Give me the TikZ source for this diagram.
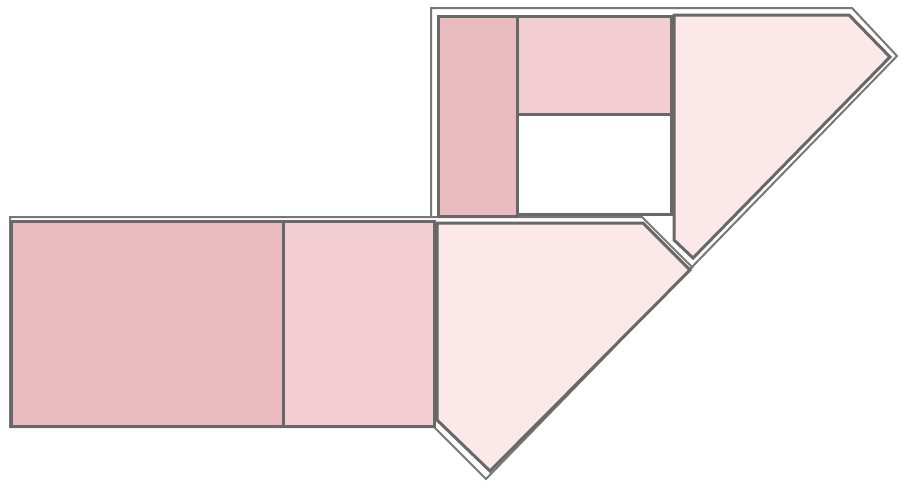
\documentclass[tikz,border=0pt]{standalone}
\usepackage{tikz}
\definecolor{roomdark}{HTML}{E9BBBE}
\definecolor{roommid}{HTML}{F2CDD1}
\definecolor{roomlight}{HTML}{FBE8E9}
\definecolor{wallgray}{HTML}{686868}
\definecolor{outlinegray}{HTML}{777777}
\tikzset{
  room/.style={draw=wallgray, line width=3pt, line join=miter},
  outline/.style={draw=outlinegray, line width=2pt, line join=miter},
}
\begin{document}
\begin{tikzpicture}[x=1pt,y=-1pt]
\useasboundingbox (0,0) rectangle (903,482);
% outer outline
\draw[outline] (10,217) -- (431,217) -- (431,8) -- (852,8) -- (897,56) -- (486,479) -- (434,427) -- (10,427) -- cycle;
\draw[outline] (431,217) -- (642,217) -- (693,268);
% lower block rooms
\filldraw[room, fill=roomdark] (11,221) rectangle (283,426);
\filldraw[room, fill=roommid] (283,221) rectangle (434,426);
\filldraw[room, fill=roomlight] (437,223) -- (643,223) -- (690,270) -- (490,471) -- (437,420) -- cycle;
% upper block rooms
\filldraw[room, fill=roomdark] (438,16) rectangle (517,216);
\filldraw[room, fill=roommid] (517,16) rectangle (671,114);
\filldraw[room, fill=white] (517,114) rectangle (671,214);
\filldraw[room, fill=roomlight] (674,15) -- (849,15) -- (890,57) -- (693,258) -- (674,240) -- cycle;
\end{tikzpicture}
\end{document}
